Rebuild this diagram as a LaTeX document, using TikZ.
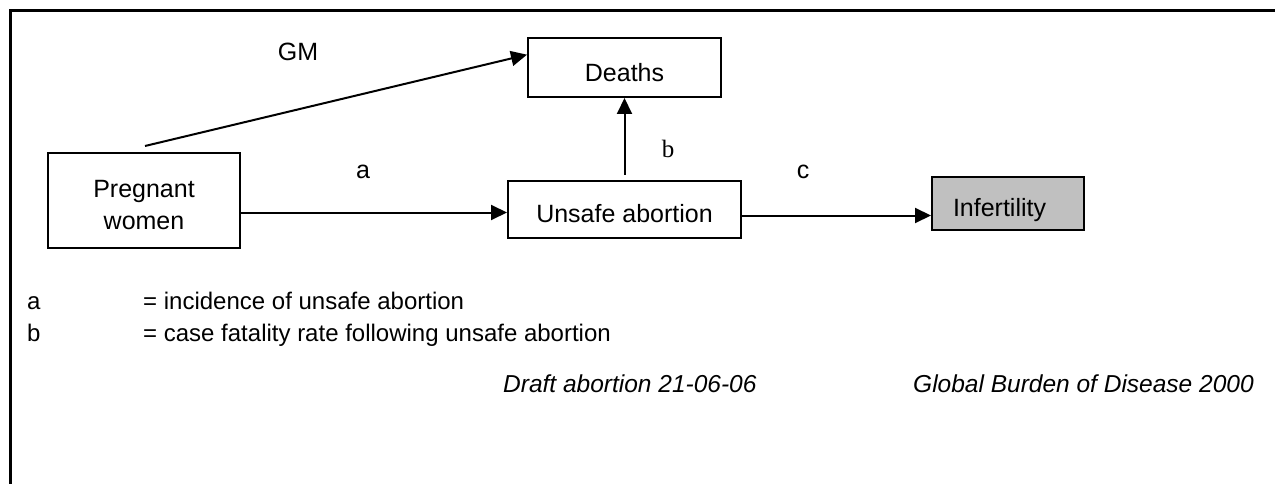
\documentclass[tikz,border=0pt]{standalone}
\usepackage{fontspec}
\setmainfont{Liberation Sans}
\newfontfamily\labserif{Liberation Serif}
\usetikzlibrary{arrows.meta,calc}

\tikzset{
  box/.style={draw, line width=2pt, inner sep=0pt, align=center,
              font=\fontsize{25}{32}\selectfont},
  arr/.style={line width=2pt, -{Triangle[length=16pt,width=15pt]}},
  lab/.style={font=\fontsize{25}{30}\selectfont, inner sep=0pt},
  legend/.style={font=\fontsize{24}{30}\selectfont, anchor=base west, inner sep=0pt},
  foot/.style={font=\fontsize{24.5}{30}\selectfont\itshape, anchor=base west, inner sep=0pt}
}

\begin{document}
\begin{tikzpicture}[x=1pt, y=-1pt]
\useasboundingbox (0,0) rectangle (1275,484);
% frame
\draw[line width=3pt] (10,484) -- (10,10.5) -- (1275,10.5);

% boxes
\node[box, minimum width=192pt, minimum height=95pt] (pregnant) at (144,200.5) {\rule{0pt}{26pt}Pregnant\\women};
\node[box, minimum width=193pt, minimum height=59pt] (deaths) at (624.5,67.5) {\rule{0pt}{28pt}Deaths};
\node[box, minimum width=233pt, minimum height=57pt] (unsafe) at (624.5,209.5) {\rule{0pt}{27pt}Unsafe abortion};
\node[box, minimum width=152pt, minimum height=53pt, fill={rgb,255:red,192;green,192;blue,192},
      text width=140pt, align=left] (infert) at (1008,203.5) {\rule{0pt}{32pt}\hspace*{15pt}Infertility};

% connectors
\coordinate (gmstart) at ($(pregnant.north)+(1,-6)$);
\draw[arr] (gmstart) -- ($(deaths.north west)!0.29!(deaths.south west)$);
\draw[arr] ([yshift=-3pt]pregnant.east |- unsafe.west) -- ([yshift=-3pt]unsafe.west);
\draw[arr] ([yshift=5pt]unsafe.north) -- (deaths.south);
\draw[arr] ([yshift=-6pt]unsafe.east) -- ([yshift=-6pt]unsafe.east -| infert.west);

% labels
\node[lab] (gm) at (298,52) {GM};
\node[lab] (la) at (363,172) {a};
\node[lab, font=\fontsize{25}{30}\selectfont\labserif] (lb) at (668,149) {b};
\node[lab] (lc) at (803,172) {c};

% legend
\node[legend] (keya) at (27,309) {a};
\node[legend] (texta) at (143,309) {= incidence of unsafe abortion};
\node[legend] (keyb) at (27,341) {b};
\node[legend] (textb) at (143,341) {= case fatality rate following unsafe abortion};

% footer
\node[foot] (draft) at (503,392) {Draft abortion 21-06-06};
\node[foot] (gbd) at (913,392) {Global Burden of Disease 2000};
\end{tikzpicture}
\end{document}
